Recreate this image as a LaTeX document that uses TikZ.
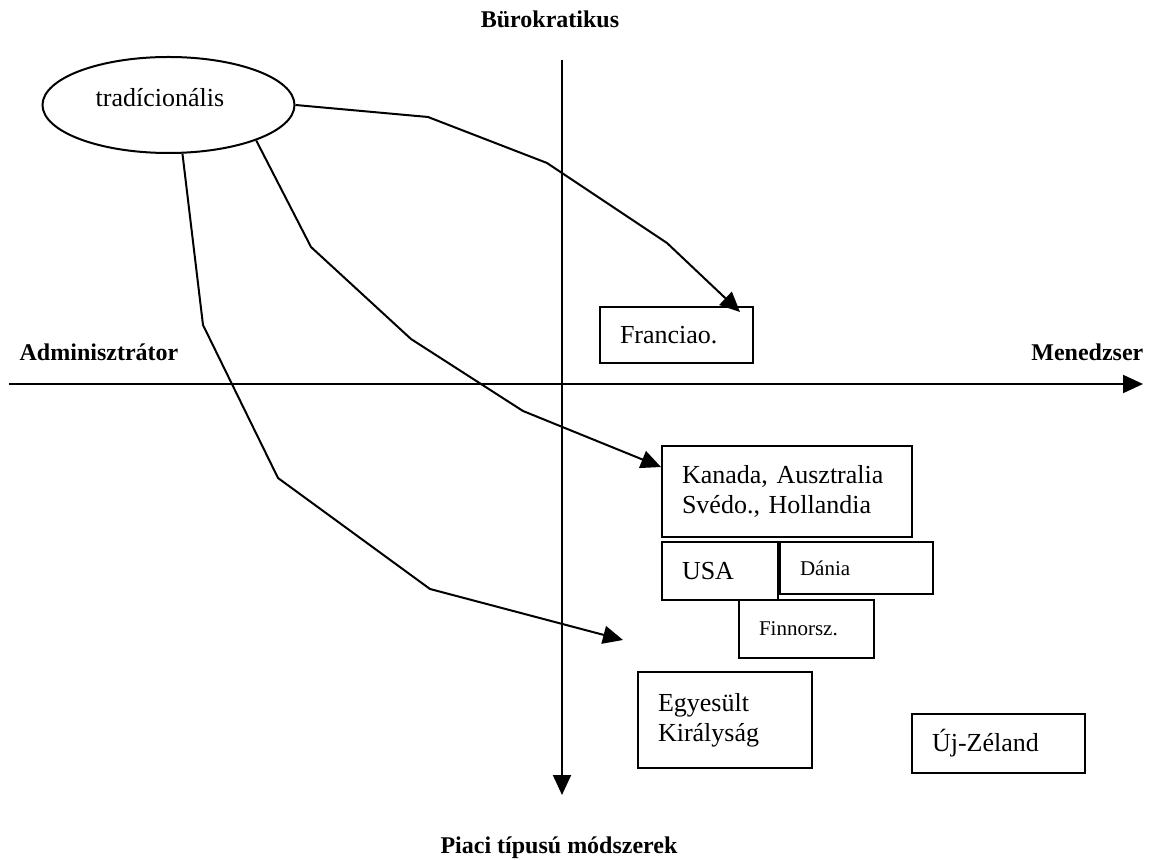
\documentclass[tikz,border=0pt]{standalone}
\usepackage{fontspec}
\setmainfont{Liberation Serif}
\usepackage{tikz}
\usetikzlibrary{shapes.geometric}
\usetikzlibrary{arrows.meta}
\usetikzlibrary{calc}

\begin{document}
\begin{tikzpicture}[x=0.5pt, y=-0.5pt, line width=1pt,
	tip/.style={-{Triangle[length=10pt,width=9pt]}},
	axislabel/.style={font=\fontsize{12}{14}\selectfont\bfseries},
	country/.style={draw, align=left, inner xsep=10pt, inner ysep=0pt, font=\fontsize{13}{15}\selectfont},
	smalltext/.style={font=\fontsize{10.5}{12}\selectfont}]

	\useasboundingbox (0,0) rectangle (1155,860);

	\node [axislabel] (burok) at (550,19) {Bürokratikus};
	\node [axislabel, anchor=west] (admin) at (12,352) {Adminisztrátor};
	\node [axislabel, anchor=east] (menedz) at (1151,352) {Menedzser};
	\node [axislabel] (piaci) at (559,848) {Piaci típusú módszerek};

	\coordinate (vtop) at (562,60);
	\coordinate (vbot) at (562,795);
	\coordinate (hleft) at (9,384);
	\coordinate (hright) at (1143,384);
	\draw [tip] (vtop) -- (vbot);
	\draw [tip] (hleft) -- (hright);

	\node [ellipse, draw, minimum width=126pt, minimum height=48pt, inner sep=0pt, text depth=8pt, font=\fontsize{13}{15}\selectfont] (trad) at (168.5,105) {tradícionális\hspace*{8.5pt}};

	\node [country, text width=56.5pt, minimum height=28pt] (francia) at (676.5,335) {Franciao.};
	\node [country, text width=105pt, minimum height=45.5pt] (kanada) at (787,491.5) {Kanada, Ausztralia\\Svédo., Hollandia};
	\node [country, text width=38pt, minimum height=29pt] (usa) at (720,571) {USA};
	\node [country, smalltext, anchor=north west, text width=56.5pt, minimum height=26pt] (dania) at (usa.north east) {Dánia};
	\node [country, smalltext, text width=47.5pt, minimum height=29pt] (finn) at (806.5,629) {Finnorsz.};
	\node [country, text width=67pt, minimum height=48pt] (uk) at (725,720) {Egyesült\\Királyság};
	\node [country, text width=66.5pt, minimum height=29.5pt] (nz) at (998.5,743.5) {Új-Zéland};

	\coordinate (free) at (623,640);
	\draw [tip] (trad.east) -- (428,117) -- (547,163) -- (667,243) -- ($(francia.north east)+(-14,6)$);
	\draw [tip] (trad.-22) -- (311,247) -- (411,339) -- (523,411) -- (kanada.169);
	\draw [tip] (trad.-74) -- (203,325) -- (278,478) -- (430,589) -- (free);
\end{tikzpicture}
\end{document}
